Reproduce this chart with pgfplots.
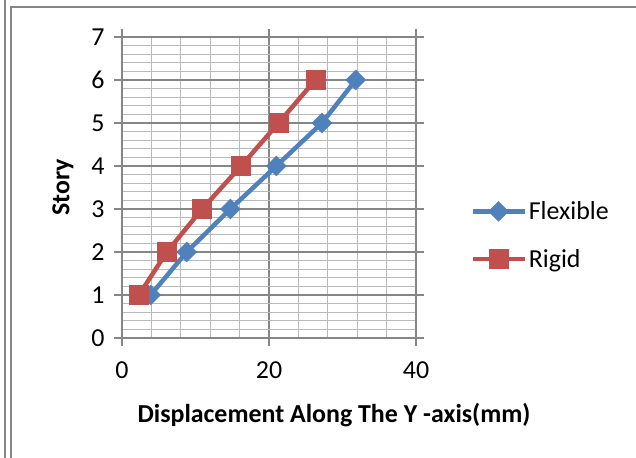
\documentclass[border=0pt]{standalone}
\usepackage{pgfplots}
\pgfplotsset{compat=1.18}
\usepackage{fontspec}
\setmainfont{Carlito}
\definecolor{xlblue}{HTML}{4F81BD}
\definecolor{xlred}{HTML}{C0504D}
\definecolor{framegray}{HTML}{868686}
\begin{document}
\begin{tikzpicture}[x=1bp,y=1bp]
\useasboundingbox (0,0) rectangle (636,458);
\draw[framegray, line width=2bp] (5,0) -- (5,458);
\draw[framegray, line width=2bp] (11,0) -- (11,451) -- (636,451);
\begin{axis}[
  at={(122bp,120bp)}, anchor=south west,
  width=294bp, height=301bp, scale only axis,
  xmin=0, xmax=40, ymin=0, ymax=7,
  xtick={0,20,40}, ytick={0,1,...,7},
  minor x tick num=4, minor y tick num=4,
  grid=both,
  major grid style={color=framegray, line width=1.1bp},
  minor grid style={color=gray!55, line width=1bp},
  axis line style={framegray, line width=1.2bp},
  tick style={framegray, line width=1.1bp},
  tick align=outside, major tick length=8bp, minor tick length=0pt,
  /pgf/number format/assume math mode=true,
  ticklabel style={font=\fontsize{26}{28}\selectfont},
  xticklabel style={yshift=-12bp},
  yticklabel style={xshift=-6bp},
  xlabel={Displacement Along The Y -axis(mm)},
  ylabel={Story},
  every axis x label/.style={at={(axis description cs:0.5,0)}, anchor=center, xshift=65bp, yshift=-77bp, font=\fontsize{26}{28}\selectfont\bfseries},
  every axis y label/.style={at={(axis description cs:0,0.5)}, anchor=center, rotate=90, yshift=59bp, font=\fontsize{26}{28}\selectfont\bfseries},
  legend style={at={(axis description cs:1.184,0.342)}, anchor=west, draw=none, fill=none,
    font=\fontsize{26}{28}\selectfont, row sep=24bp, inner sep=0pt, nodes={inner sep=2bp}},
  legend cell align=left,
  legend image code/.code={\draw[mark repeat=2, mark phase=2, #1] plot coordinates {(0bp,0bp)(26bp,0bp)(52bp,0bp)};},
]
\addplot[color=xlblue, line width=4.5bp, mark=square*, mark size=7bp,
  mark options={rotate=45, fill=xlblue, draw=xlblue, line width=0.5bp}]
  coordinates {(3.9,1) (8.8,2) (14.75,3) (21.0,4) (27.2,5) (31.8,6)};
\addlegendentry{Flexible}
\addplot[color=xlred, line width=4.5bp, mark=square*, mark size=9.5bp,
  mark options={fill=xlred, draw=xlred, line width=0.5bp}]
  coordinates {(2.3,1) (6.1,2) (10.9,3) (16.2,4) (21.3,5) (26.3,6)};
\addlegendentry{Rigid}
\end{axis}
\end{tikzpicture}
\end{document}
